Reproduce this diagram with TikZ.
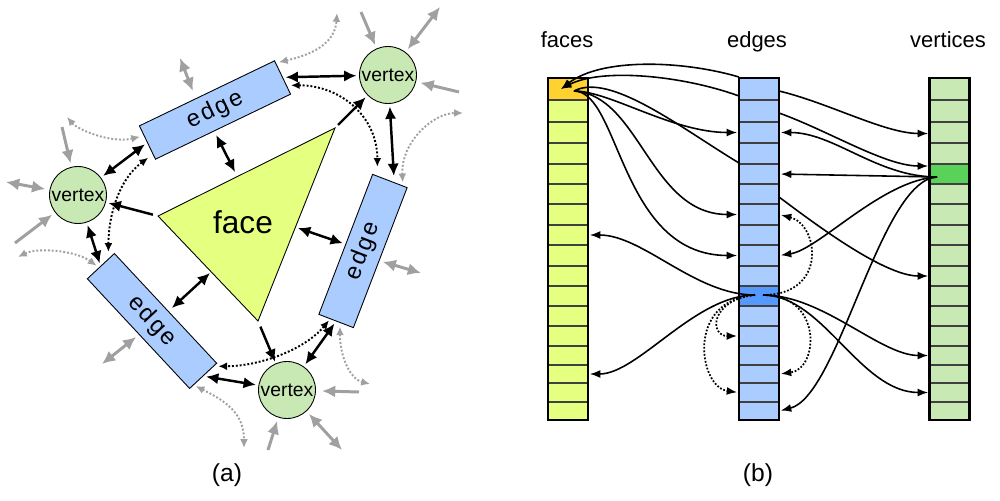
\documentclass[tikz,border=0pt]{standalone}
\usepackage{fontspec}
\setmainfont{Liberation Sans}
\newfontfamily\edgefont[LetterSpace=10]{Liberation Sans}
\usepackage{xcolor}
\usetikzlibrary{arrows.meta,calc}

\definecolor{facegreen}{HTML}{E5FF80}
\definecolor{faceorange}{HTML}{FFD232}
\definecolor{edgeblue}{HTML}{AACCFF}
\definecolor{edgedark}{HTML}{5599FF}
\definecolor{vertgreen}{HTML}{C8E8B4}
\definecolor{vertdark}{HTML}{5AD25A}
\definecolor{stubgray}{HTML}{A0A0A0}

\begin{document}
\begin{tikzpicture}[x=0.02cm, y=-0.02cm,
    vertex/.style={draw, line width=0.5pt, circle, fill=vertgreen, minimum size=1.14cm, inner sep=0pt, font=\fontsize{11}{13}\selectfont},
    edgebox/.style={draw, line width=0.5pt, rectangle, fill=edgeblue, minimum width=3cm, minimum height=0.74cm, inner sep=0pt, font=\edgefont\fontsize{13.5}{16}\selectfont},
    blk/.style={line width=1.4pt, >={Latex[length=7pt,width=6.5pt]}},
    dots/.style={line width=1.1pt, dash pattern=on 1.1pt off 1.1pt, >={Latex[length=5pt,width=4.5pt]}},
    stub/.style={line width=1.7pt, color=stubgray, >={Latex[length=7.5pt,width=7pt]}},
    stubdots/.style={line width=1.1pt, color=stubgray, dash pattern=on 1.1pt off 1.1pt, >={Latex[length=5pt,width=4.5pt]}},
    ptr/.style={line width=0.9pt, >={Latex[length=6pt,width=4.5pt]}},
    ptrdots/.style={ptr, line width=1pt, dash pattern=on 1pt off 1pt},
    array/.style={draw, line width=1.6pt, minimum width=0.8cm, minimum height=6.84cm, inner sep=0pt},
    cellline/.style={line width=0.6pt, black!75},
    lbl/.style={font=\fontsize{12.5}{15}\selectfont, anchor=base},
    gap/.style={shorten <=1.5pt, shorten >=1.5pt}]

    \useasboundingbox (0,0) rectangle (1000,500);

    % (a)
    \coordinate (fa) at (158,216);
    \coordinate (fb) at (335,128);
    \coordinate (fc) at (258,321);
    \draw[line width=0.5pt, fill=facegreen] (fa) -- (fb) -- (fc) -- cycle;
    \node (face) [font=\fontsize{18}{20}\selectfont] at (243,222) {face};

    \node (vtr) [vertex] at (388,75) {vertex};
    \node (vl) [vertex] at (78,195) {vertex};
    \node (vb) [vertex] at (287,390) {vertex};
    \node (etop) [edgebox, rotate=25.7] at (215,110) {edge};
    \node (eright) [edgebox, rotate=69] at (363,251) {edge};
    \node (eleft) [edgebox, rotate=-47] at (152,321) {edge};

    \coordinate (ft) at (235,172);
    \coordinate (fr) at (298,228);
    \coordinate (fl) at (210,273);

    \draw[blk, <->, gap] (etop.east) -- (vtr);
    \draw[blk, <->] ($(etop.south)+(-7,8)$) -- (ft);
    \draw[blk, <->, gap] (vtr) -- ($(eright.east)+(4,-2)$);
    \draw[blk, <->, shorten >=1.5pt] (fr) -- (eright.north);
    \draw[blk, <->, gap] (etop.west) -- (vl);
    \draw[blk, ->, shorten <=3pt, shorten >=1.5pt] (fa) -- (vl);
    \draw[blk, ->, shorten <=2.5pt, shorten >=1.5pt] (fb) -- (vtr);
    \draw[blk, ->, shorten <=3.5pt, shorten >=1pt] (fc) -- (vb);
    \draw[blk, <->, gap] (vl) -- (eleft.west);
    \draw[blk, <->] ($(eleft.north)+(6,0)$) -- (fl);
    \draw[blk, <->, gap] (eleft.east) -- (vb);
    \draw[blk, <->, gap] (vb) -- (eright.west);

    \draw[dots, <->] ($(etop.east)+(8,8)$) .. controls +(50,0) and +(0,-50) .. ($(eright.north east)+(5,-7)$);
    \draw[dots, <->] ($(etop.south west)+(-7,-2)$) .. controls +(-30,22) and +(0,-35) .. ($(eleft.north west)+(-6,-1)$);
    \draw[dots, <->] ($(eright.west)+(-7,-1)$) .. controls +(-25,30) and +(40,0) .. ($(eleft.north east)+(1,3)$);

    \coordinate (s1) at (361,12);
    \coordinate (s2) at (440,7);
    \coordinate (s3) at (459,92);
    \coordinate (s4) at (180,58);
    \coordinate (s5) at (62,127);
    \coordinate (s6) at (6,182);
    \coordinate (s7) at (15,243);
    \coordinate (s8) at (102,364);
    \coordinate (s9) at (268,450);
    \coordinate (s10) at (342,450);
    \coordinate (s11) at (359,392);
    \coordinate (s12) at (421,273);

    \draw[stub, ->, shorten >=2pt] (s1) -- (vtr);
    \draw[stub, <->, shorten >=2pt] (s2) -- (vtr);
    \draw[stub, ->, shorten >=2.5pt] (s3) -- (vtr);
    \draw[stub, <->] (s4) -- ($(etop.north)+(-14,-2)$);
    \draw[stub, ->, shorten >=2pt] (s5) -- (vl);
    \draw[stub, <->, shorten >=2.5pt] (s6) -- (vl);
    \draw[stub, ->, shorten >=2pt] (s7) -- (vl);
    \draw[stub, <->] (s8) -- ($(eleft.south)+(-2,3)$);
    \draw[stub, ->, shorten >=2pt] (s9) -- (vb);
    \draw[stub, <->, shorten >=2pt] (s10) -- (vb);
    \draw[stub, ->, shorten >=3.5pt] (s11) -- (vb);
    \draw[stub, <->] ($(eright.south)+(2,4)$) -- (s12);

    \coordinate (t1) at (337,13);
    \coordinate (t2) at (463,113);
    \coordinate (t3) at (67,117);
    \coordinate (t4) at (18,257);
    \coordinate (t5) at (244,448);
    \coordinate (t6) at (370,384);

    \draw[stubdots, <->] ($(etop.north east)+(4,2)$) .. controls +(35,-8) and +(-2,30) .. (t1);
    \draw[stubdots, <->] ($(eright.south east)+(-5,-5)$) .. controls +(-2,-40) and +(-30,0) .. (t2);
    \draw[stubdots, <->] ($(etop.west)+(-7,-6)$) .. controls +(-30,7) and +(10,12) .. (t3);
    \draw[stubdots, <->] (t4) .. controls +(20,-10) and +(-20,-15) .. ($(eleft.west)+(-4,0)$);
    \draw[stubdots, <->] ($(eleft.south east)+(6,-3)$) .. controls +(30,15) and +(0,-35) .. (t5);
    \draw[stubdots, <->] ($(eright.west)+(4,5)$) .. controls +(0,30) and +(-20,-5) .. (t6);

    \node (lbla) [font=\fontsize{14}{17}\selectfont, anchor=base] at (227,481) {(a)};

    % (b)
    \foreach \ya/\yb [count=\k from 0] in {78/100,100/122,122/143,143/164,164/184,184/204,204/225,225/245,245/266,266/286,286/306,306/326,326/346,346/365,365/383,383/402,402/420} {
        \fill[facegreen] (548,\ya) rectangle (588,\yb);
        \fill[edgeblue] (739,\ya) rectangle (779,\yb);
        \fill[vertgreen] (930,\ya) rectangle (969,\yb);
        \coordinate (fw\k) at (548,{(\ya+\yb)/2});
        \coordinate (fe\k) at (588,{(\ya+\yb)/2});
        \coordinate (ew\k) at (739,{(\ya+\yb)/2});
        \coordinate (ee\k) at (779,{(\ya+\yb)/2});
        \coordinate (vw\k) at (930,{(\ya+\yb)/2});
        \coordinate (ve\k) at (969,{(\ya+\yb)/2});
    }
    \fill[faceorange] (548,78) rectangle (588,100);
    \fill[edgedark] (739,286) rectangle (779,306);
    \fill[vertdark] (930,164) rectangle (969,184);
    \foreach \y in {100,122,143,164,184,204,225,245,266,286,306,326,346,365,383,402} {
        \draw[cellline] (548,\y) -- (588,\y);
        \draw[cellline] (739,\y) -- (779,\y);
        \draw[cellline] (930,\y) -- (969,\y);
    }
    \node (faces) [array] at (568,249) {};
    \node (edges) [array] at (759,249) {};
    \node (verts) [array] at (949.5,249) {};

    \node (lblf) [lbl] at (567,47.5) {faces};
    \node (lble) [lbl] at (757,47.5) {edges};
    \node (lblv) [lbl] at (948,47.5) {vertices};

    \coordinate (fp) at (574,91);
    \coordinate (fin) at (561,89);
    \coordinate (epl) at (755,295);
    \coordinate (epr) at (763,295);
    \coordinate (vp) at (937,177);

    \draw[ptr, ->, shorten >=1pt] (fp) .. controls +(36,0) and +(-67,0) .. (ew2);
    \draw[ptr, ->, shorten >=1pt] (fp) .. controls +(66,4) and +(-89,0) .. (ew6);
    \draw[ptr, ->, shorten >=1pt] (fp) .. controls +(46,0) and +(-119,0) .. (ew8);
    \draw[ptr] (fp) .. controls +(36,-19) and +(-58,-35) .. ($(ew4)+(0,-11)$);
    \draw[ptr, ->] ($(ew0)+(0,-12)$) .. controls +(-58,-17) and +(40,-31) .. (fin);
    \draw[ptr, ->] ($(ew0)+(0,7)$) .. controls +(-58,-21) and +(40,-21) .. (fin);

    \draw[ptr, ->, shorten >=1pt] ($(ee0)+(0,2)$) .. controls +(50,12) and +(-45,0) .. ($(vw2)+(0,1)$);
    \draw[ptr, ->, shorten >=1pt] ($(ee1)+(0,2)$) .. controls +(50,18) and +(-45,0) .. ($(vw4)+(0,-8)$);
    \draw[ptr, ->, shorten >=1pt] ($(ee5)+(0,3)$) .. controls +(40,30) and +(-45,0) .. (vw9);

    \draw[ptr, ->, shorten >=1pt] (vp) -- (ee4);
    \draw[ptr, ->, shorten >=1pt] (vp) .. controls +(-60,0) and +(55,0) .. (ee2);
    \draw[ptr, ->, shorten >=1pt] (vp) .. controls +(-55,3) and +(40,-6) .. (ee8);
    \draw[ptr, ->, shorten >=1pt] (vp) .. controls +(-57,3) and +(60,-15) .. (ee16);

    \draw[ptr, ->, shorten >=1pt] (epl) .. controls +(-60,0) and +(55,0) .. (fe7);
    \draw[ptr, ->, shorten >=1pt] (epl) .. controls +(-60,0) and +(50,0) .. (fe14);
    \draw[ptrdots, ->, shorten >=1pt] (epl) .. controls +(-45,5) and +(-30,0) .. (ew12);
    \draw[ptrdots, ->, shorten >=1pt] (epl) .. controls +(-70,5) and +(-40,-5) .. (ew15);
    \draw[ptrdots, ->, shorten >=1pt] (epr) .. controls +(65,0) and +(40,10) .. (ee6);
    \draw[ptrdots, ->, shorten >=1pt] (epr) .. controls +(60,0) and +(40,-5) .. (ee14);
    \draw[ptr, ->, shorten >=1pt] (epr) .. controls +(60,0) and +(-50,0) .. (vw13);
    \draw[ptr, ->, shorten >=1pt] (epr) .. controls +(60,0) and +(-70,0) .. (vw15);

    \node (lblb) [font=\fontsize{14}{17}\selectfont, anchor=base] at (758,481) {(b)};

\end{tikzpicture}
\end{document}
